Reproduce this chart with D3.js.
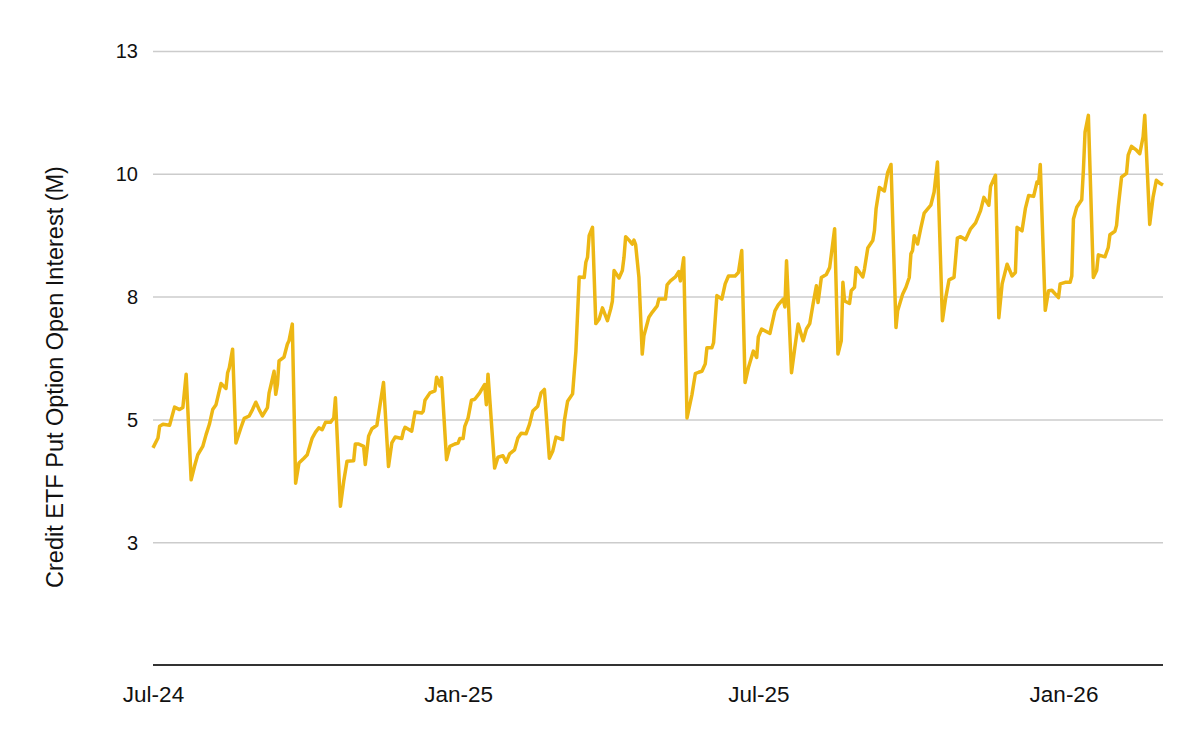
<!DOCTYPE html>
<html>
<head>
<meta charset="utf-8">
<script src="https://cdn.jsdelivr.net/npm/d3@7"></script>
<style>
  html, body { margin: 0; padding: 0; background: #ffffff; }
  svg { display: block; }
</style>
</head>
<body>
<svg id="chart" width="1200" height="742"></svg>
<script>
// ---- data ----
const dates = [
  "2024-07-01","2024-07-04","2024-07-05","2024-07-07","2024-07-11","2024-07-14","2024-07-17","2024-07-19","2024-07-21","2024-07-24",
  "2024-07-26","2024-07-28","2024-07-31","2024-08-02","2024-08-04","2024-08-06","2024-08-08","2024-08-11","2024-08-14","2024-08-15",
  "2024-08-16","2024-08-18","2024-08-20","2024-08-23","2024-08-25","2024-08-28","2024-08-30","2024-09-01","2024-09-03","2024-09-05",
  "2024-09-08","2024-09-09","2024-09-10","2024-09-12","2024-09-13","2024-09-14","2024-09-15","2024-09-18","2024-09-20","2024-09-21",
  "2024-09-23","2024-09-25","2024-09-27","2024-09-30","2024-10-02","2024-10-05","2024-10-07","2024-10-09","2024-10-11","2024-10-13",
  "2024-10-16","2024-10-18","2024-10-19","2024-10-22","2024-10-24","2024-10-26","2024-10-30","2024-10-31","2024-11-02","2024-11-05",
  "2024-11-06","2024-11-08","2024-11-10","2024-11-13","2024-11-17","2024-11-20","2024-11-22","2024-11-24","2024-11-28","2024-11-29",
  "2024-11-30","2024-12-04","2024-12-06","2024-12-10","2024-12-11","2024-12-12","2024-12-15","2024-12-18","2024-12-19","2024-12-21",
  "2024-12-22","2024-12-25","2024-12-27","2024-12-30","2025-01-01","2025-01-02","2025-01-04","2025-01-05","2025-01-07","2025-01-09",
  "2025-01-11","2025-01-14","2025-01-15","2025-01-17","2025-01-18","2025-01-19","2025-01-23","2025-01-25","2025-01-28","2025-01-30",
  "2025-02-01","2025-02-04","2025-02-06","2025-02-08","2025-02-11","2025-02-13","2025-02-15","2025-02-18","2025-02-20","2025-02-22",
  "2025-02-25","2025-02-27","2025-03-01","2025-03-05","2025-03-06","2025-03-07","2025-03-08","2025-03-11","2025-03-13","2025-03-14",
  "2025-03-15","2025-03-18","2025-03-19","2025-03-20","2025-03-21","2025-03-23","2025-03-25","2025-03-27","2025-03-29","2025-04-01",
  "2025-04-03","2025-04-04","2025-04-05","2025-04-08","2025-04-10","2025-04-11","2025-04-12","2025-04-14","2025-04-16","2025-04-17",
  "2025-04-18","2025-04-20","2025-04-22","2025-04-23","2025-04-26","2025-04-28","2025-05-01","2025-05-02","2025-05-06","2025-05-07",
  "2025-05-09","2025-05-12","2025-05-14","2025-05-15","2025-05-17","2025-05-19","2025-05-22","2025-05-24","2025-05-26","2025-05-28",
  "2025-05-30","2025-05-31","2025-06-03","2025-06-04","2025-06-06","2025-06-09","2025-06-11","2025-06-13","2025-06-17","2025-06-19",
  "2025-06-21","2025-06-23","2025-06-25","2025-06-28","2025-06-30","2025-07-01","2025-07-03","2025-07-08","2025-07-11","2025-07-13",
  "2025-07-16","2025-07-17","2025-07-18","2025-07-21","2025-07-23","2025-07-25","2025-07-28","2025-07-30","2025-08-01","2025-08-03",
  "2025-08-05","2025-08-06","2025-08-08","2025-08-11","2025-08-13","2025-08-16","2025-08-18","2025-08-20","2025-08-21","2025-08-22",
  "2025-08-25","2025-08-26","2025-08-28","2025-08-29","2025-09-02","2025-09-03","2025-09-05","2025-09-08","2025-09-09","2025-09-10",
  "2025-09-12","2025-09-15","2025-09-17","2025-09-19","2025-09-22","2025-09-23","2025-09-26","2025-09-28","2025-09-30","2025-10-01",
  "2025-10-02","2025-10-03","2025-10-05","2025-10-07","2025-10-09","2025-10-13","2025-10-15","2025-10-17","2025-10-20","2025-10-22",
  "2025-10-24","2025-10-27","2025-10-29","2025-10-31","2025-11-03","2025-11-06","2025-11-09","2025-11-12","2025-11-14","2025-11-17",
  "2025-11-18","2025-11-21","2025-11-23","2025-11-25","2025-11-28","2025-12-01","2025-12-03","2025-12-04","2025-12-07","2025-12-09",
  "2025-12-11","2025-12-14","2025-12-16","2025-12-17","2025-12-18","2025-12-21","2025-12-23","2025-12-25","2025-12-29","2025-12-30",
  "2026-01-02","2026-01-05","2026-01-06","2026-01-07","2026-01-09","2026-01-12","2026-01-13","2026-01-14","2026-01-16","2026-01-19",
  "2026-01-21","2026-01-22","2026-01-26","2026-01-28","2026-01-29","2026-02-01","2026-02-02","2026-02-03","2026-02-05","2026-02-08",
  "2026-02-09","2026-02-11","2026-02-14","2026-02-16","2026-02-18","2026-02-19","2026-02-22","2026-02-24","2026-02-26","2026-02-28",
  "2026-03-02"
];
const putOI = [
  4.42,4.62,4.86,4.90,4.88,5.25,5.20,5.24,5.92,3.77,
  4.04,4.28,4.45,4.69,4.90,5.20,5.30,5.73,5.63,5.95,
  6.05,6.43,4.52,4.83,5.02,5.07,5.20,5.35,5.20,5.07,
  5.24,5.54,5.68,5.98,5.51,5.71,6.19,6.27,6.53,6.60,
  6.94,3.70,4.11,4.21,4.28,4.62,4.74,4.83,4.79,4.94,
  4.94,5.03,5.44,3.23,3.74,4.15,4.16,4.50,4.50,4.45,
  4.08,4.66,4.81,4.88,5.75,4.04,4.52,4.64,4.61,4.76,
  4.84,4.76,5.15,5.13,5.17,5.39,5.54,5.58,5.86,5.68,
  5.85,4.18,4.45,4.50,4.52,4.61,4.61,4.86,5.03,5.39,
  5.41,5.54,5.60,5.71,5.30,5.92,4.01,4.23,4.26,4.13,
  4.30,4.38,4.62,4.72,4.71,4.90,5.17,5.27,5.54,5.61,
  4.21,4.35,4.64,4.59,4.96,5.17,5.37,5.52,6.39,7.14,
  7.90,7.89,8.20,8.30,8.74,8.91,6.95,7.04,7.27,7.01,
  7.25,7.41,8.03,7.88,8.03,8.30,8.72,8.65,8.57,8.65,
  8.56,7.89,6.33,6.70,7.08,7.18,7.31,7.45,7.45,7.74,
  7.82,7.90,8.01,7.82,8.29,5.03,5.51,5.93,5.96,5.98,
  6.13,6.46,6.46,6.56,7.52,7.45,7.76,7.92,7.92,7.99,
  8.44,5.75,6.05,6.39,6.26,6.68,6.84,6.75,7.21,7.33,
  7.45,7.29,8.23,5.95,6.46,6.94,6.60,6.84,6.95,7.35,
  7.72,7.38,7.89,7.95,8.09,8.88,6.33,6.60,7.79,7.41,
  7.36,7.62,7.69,8.09,7.90,8.06,8.49,8.64,8.84,9.29,
  9.72,9.65,10.03,10.19,6.87,7.21,7.55,7.69,7.89,8.37,
  8.44,8.74,8.57,8.90,9.20,9.36,9.63,10.24,7.01,7.48,
  7.84,7.89,8.69,8.72,8.66,8.88,9.00,9.25,9.52,9.36,
  9.74,9.97,7.07,7.76,8.16,7.92,7.99,8.91,8.84,9.29,
  9.56,9.54,9.83,9.81,10.19,7.22,7.62,7.63,7.48,7.76,
  7.79,7.79,7.92,9.08,9.32,9.47,10.07,10.85,11.19,7.89,
  8.03,8.35,8.31,8.50,8.76,8.83,8.95,9.32,9.93,10.01,
  10.38,10.56,10.48,10.41,10.75,11.19,8.97,9.52,9.87,9.81,
  9.77
];
const yTickValues = [2.5, 5, 7.5, 10, 12.5];
const yTickLabels = ["3", "5", "8", "10", "13"];
const xTickDates = ["2024-07-01", "2025-01-01", "2025-07-01", "2026-01-01"];
const xTickLabels = ["Jul-24", "Jan-25", "Jul-25", "Jan-26"];
const yTitle = "Credit ETF Put Option Open Interest (M)";

// ---- drawing ----
const parse = d3.utcParse("%Y-%m-%d");
const series = dates.map((d, i) => ({ date: parse(d), value: putOI[i] }));

const plot = { left: 153, right: 1163, top: 51, bottom: 665 };
const svg = d3.select("#chart");
const font = "'Liberation Sans', Arial, Helvetica, sans-serif";

const x = d3.scaleUtc()
  .domain([parse("2024-07-01"), parse("2026-03-02")])
  .range([plot.left, plot.right]);
const y = d3.scaleLinear()
  .domain([0, 12.5])
  .range([plot.bottom, plot.top]);

// gridlines + y labels
const yAxis = d3.axisLeft(y)
  .tickValues(yTickValues)
  .tickSize(-(plot.right - plot.left))
  .tickPadding(15)
  .tickFormat((d, i) => yTickLabels[i]);
const gy = svg.append("g")
  .attr("transform", `translate(${plot.left},0)`)
  .call(yAxis);
gy.select(".domain").remove();
gy.selectAll(".tick line").attr("stroke", "#cccccc").attr("stroke-width", 1.5);
gy.selectAll(".tick text")
  .attr("fill", "#111111")
  .attr("dy", "0.34em")
  .style("font-family", font)
  .style("font-size", "20px");

// x axis
const xAxis = d3.axisBottom(x)
  .tickValues(xTickDates.map(parse))
  .tickSize(0)
  .tickPadding(21)
  .tickFormat((d, i) => xTickLabels[i]);
const gx = svg.append("g")
  .attr("transform", `translate(0,${plot.bottom})`)
  .call(xAxis);
gx.select(".domain").remove();
gx.selectAll(".tick text")
  .attr("fill", "#111111")
  .style("font-family", font)
  .style("font-size", "22.5px");
svg.append("line")
  .attr("x1", plot.left).attr("x2", plot.right)
  .attr("y1", y(0)).attr("y2", y(0))
  .attr("stroke", "#333333").attr("stroke-width", 2);

// line
const line = d3.line()
  .x(d => x(d.date))
  .y(d => y(d.value));
svg.append("path")
  .datum(series)
  .attr("fill", "none")
  .attr("stroke", "#EDB714")
  .attr("stroke-width", 3.5)
  .attr("stroke-linejoin", "round")
  .attr("d", line);

// y title
svg.append("text")
  .attr("transform", "translate(63,377) rotate(-90)")
  .attr("text-anchor", "middle")
  .attr("fill", "#111111")
  .style("font-family", font)
  .style("font-size", "23.5px")
  .text(yTitle);
</script>
</body>
</html>
